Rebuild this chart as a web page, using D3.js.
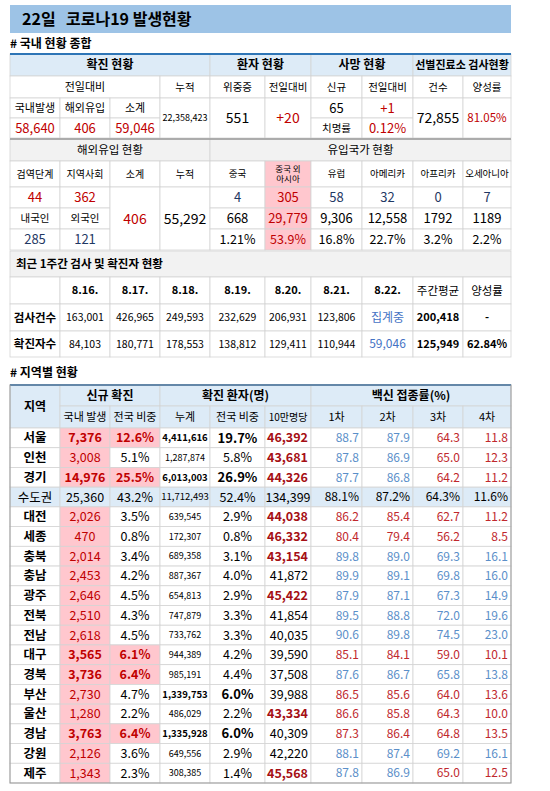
<!DOCTYPE html>
<html><head><meta charset="utf-8">
<script src="https://cdn.jsdelivr.net/npm/d3@7"></script>
<style>body{margin:0;background:#fff}text{font-family:"Noto Sans CJK KR","Noto Sans",sans-serif;white-space:pre}</style>
</head><body><svg id="c" width="550" height="791"></svg>
<script>
// ---- data ----
const summaryHead=["확진 현황","환자 현황","사망 현황","선별진료소 검사현황"];
const summaryVals={domestic:"58,640",overseas:"406",subtotal:"59,046",cumul:"22,358,423",critical:"551",criticalDiff:"+20",deaths:"65",deathsDiff:"+1",fatality:"0.12%",tests:"72,855",positivity:"81.05%"};
const overseasTop=["44","362"], overseasBot=["285","121"];
const countryNames=["중국","중국 외\n아시아","유럽","아메리카","아프리카","오세아니아"];
const countryToday=["4","305","58","32","0","7"];
const countryCumul=["668","29,779","9,306","12,558","1792","1189"];
const countryShare=["1.21%","53.9%","16.8%","22.7%","3.2%","2.2%"];
const weekDates=["8.16.","8.17.","8.18.","8.19.","8.20.","8.21.","8.22."];
const weekTests=["163,001","426,965","249,593","232,629","206,931","123,806","집계중"];
const weekCases=["84,103","180,771","178,553","138,812","129,411","110,944","59,046"];
const weekAvg=["200,418","125,949"], weekRate=["-","62.84%"];
const regions=["서울","인천","경기","수도권","대전","세종","충북","충남","광주","전북","전남","대구","경북","부산","울산","경남","강원","제주"];
const newCases=["7,376","3,008","14,976","25,360","2,026","470","2,014","2,453","2,646","2,510","2,618","3,565","3,736","2,730","1,280","3,763","2,126","1,343"];
const newShare=["12.6%","5.1%","25.5%","43.2%","3.5%","0.8%","3.4%","4.2%","4.5%","4.3%","4.5%","6.1%","6.4%","4.7%","2.2%","6.4%","3.6%","2.3%"];
const totalCases=["4,411,616","1,287,874","6,013,003","11,712,493","639,545","172,307","689,358","887,367","654,813","747,879","733,762","944,389","985,191","1,339,753","486,029","1,335,928","649,556","308,385"];
const totalShare=["19.7%","5.8%","26.9%","52.4%","2.9%","0.8%","3.1%","4.0%","2.9%","3.3%","3.3%","4.2%","4.4%","6.0%","2.2%","6.0%","2.9%","1.4%"];
const per100k=["46,392","43,681","44,326","134,399","44,038","46,332","43,154","41,872","45,422","41,854","40,035","39,590","37,508","39,988","43,334","40,309","42,220","45,568"];
const vac1=["88.7","87.8","87.7","88.1%","86.2","80.4","89.8","89.9","87.9","89.5","90.6","85.1","87.6","86.5","86.6","87.3","88.1","87.8"];
const vac2=["87.9","86.9","86.8","87.2%","85.4","79.4","89.0","89.1","87.1","88.8","89.8","84.1","86.7","85.6","85.8","86.4","87.4","86.9"];
const vac3=["64.3","65.0","64.2","64.3%","62.7","56.2","69.3","69.8","67.3","72.0","74.5","59.0","65.8","64.0","64.3","64.8","69.2","65.0"];
const vac4=["11.8","12.3","11.2","11.6%","11.2","8.5","16.1","16.0","14.9","19.6","23.0","10.1","13.8","13.6","10.0","13.5","16.1","12.5"];
const highlightRegions=["서울","경기","대구","경북","경남"];
const boldTotalRegions=["서울","경기","부산","경남"];
const hotPer100k=["서울","인천","경기","대전","세종","충북","광주","울산","제주"];
const vacRed={"서울":[0,0,1,1],"인천":[0,0,1,1],"경기":[0,0,1,1],"대전":[1,1,1,1],"세종":[1,1,1,1],"대구":[1,1,1,1],"부산":[1,1,1,1],"울산":[1,1,1,1],"경남":[1,1,1,1],"제주":[0,0,1,1]};

// ---- drawing ----
const svg=d3.select("#c");
const bounds=[10,60,110,160,210,265,311,362,413,463,511];
const X=d3.scaleOrdinal().domain(d3.range(11)).range(bounds);
const RED="#c00000",DRED="#a50f15",NAVY="#1f3864",BLUE="#4472c4",VBLUE="#5b8fc9",PINK="#ffc7ce",LB="#ddebf7",GRAY="#f2f2f2",LINE="#d4d4d4";
function cell(c0,c1,y0,y1,txt,o={}){
  const x0=X(c0),x1=X(c1);
  svg.append("rect").attr("x",x0).attr("y",y0).attr("width",x1-x0).attr("height",y1-y0)
    .attr("fill",o.bg||"#fff").attr("stroke",LINE).attr("stroke-width",0.8);
  if(txt==null)return;
  const lines=String(txt).split("\n");
  const fs=o.fs||12;
  const anchor=o.anchor||"middle";
  const tx=anchor==="end"?x1-3:anchor==="start"?x0+6:(x0+x1)/2;
  const t=svg.append("text").attr("x",tx).attr("text-anchor",anchor)
    .attr("font-size",fs).attr("font-weight",o.bold?"bold":"normal").attr("fill",o.color||"#000");
  const ym=(y0+y1)/2, lh=fs*1.25;
  lines.forEach((l,i)=>t.append("tspan").attr("x",tx).attr("y",ym+(i-(lines.length-1)/2)*lh).attr("dy","0.36em").text(l));
}
// title
svg.append("rect").attr("x",10).attr("y",5).attr("width",501).attr("height",28).attr("fill","#9dc3e6");
svg.append("text").attr("x",22).attr("y",25).attr("font-size",16).attr("font-weight","bold").text("22일");
svg.append("text").attr("x",66).attr("y",25).attr("font-size",16).attr("font-weight","bold").text("코로나19 발생현황");
svg.append("text").attr("x",10).attr("y",48).attr("font-size",12).attr("font-weight","bold").text("# 국내 현황 종합");

// table 1
cell(0,4,54,76,summaryHead[0],{bg:LB,bold:true});
cell(4,6,54,76,summaryHead[1],{bg:LB,bold:true});
cell(6,8,54,76,summaryHead[2],{bg:LB,bold:true});
cell(8,10,54,76,summaryHead[3],{bg:LB,bold:true,fs:11});
cell(0,3,76,98,"전일대비",{fs:11});
["누적","위중증","전일대비","신규","전일대비","건수","양성률"].forEach((h,i)=>cell(3+i,4+i,76,98,h,{fs:10.5}));
cell(0,1,98,118,"국내발생",{fs:11});cell(1,2,98,118,"해외유입",{fs:11});cell(2,3,98,118,"소계",{fs:11});
cell(0,1,118,138,summaryVals.domestic,{color:RED,fs:13});
cell(1,2,118,138,summaryVals.overseas,{color:RED,fs:13});
cell(2,3,118,138,summaryVals.subtotal,{color:RED,fs:13});
cell(3,4,98,138,summaryVals.cumul,{fs:9});
cell(4,5,98,138,summaryVals.critical,{fs:14});
cell(5,6,98,138,summaryVals.criticalDiff,{fs:14,color:RED});
cell(6,7,98,118,summaryVals.deaths,{fs:13});
cell(7,8,98,118,summaryVals.deathsDiff,{fs:13,color:RED});
cell(6,7,118,138,"치명률",{fs:10.5});
cell(7,8,118,138,summaryVals.fatality,{fs:13,color:RED});
cell(8,9,98,138,summaryVals.tests,{fs:14});
cell(9,10,98,138,summaryVals.positivity,{fs:11.5,color:RED});
svg.append("line").attr("x1",10).attr("x2",511).attr("y1",54).attr("y2",54).attr("stroke","#2e75b6").attr("stroke-width",2);

// table 2
cell(0,4,139,161,"해외유입 현황",{bg:GRAY,fs:11.5});
cell(4,10,139,161,"유입국가 현황",{bg:GRAY,fs:11.5});
["검역단계","지역사회","소계","누적"].forEach((h,i)=>cell(i,i+1,161,187,h,{fs:10}));
countryNames.forEach((h,i)=>cell(4+i,5+i,161,187,h,{fs:i===1?8.5:9.5,bg:i===1?PINK:"#fff"}));
cell(0,1,187,208,overseasTop[0],{color:RED,fs:13});
cell(1,2,187,208,overseasTop[1],{color:RED,fs:13});
cell(0,1,208,229,"내국인",{fs:10.5});cell(1,2,208,229,"외국인",{fs:10.5});
cell(0,1,229,250,overseasBot[0],{color:NAVY,fs:13});
cell(1,2,229,250,overseasBot[1],{color:NAVY,fs:13});
cell(2,3,187,250,summaryVals.overseas,{color:RED,fs:14});
cell(3,4,187,250,"55,292",{fs:14});
countryToday.forEach((v,i)=>cell(4+i,5+i,187,208,v,{fs:13,color:i===1?RED:NAVY,bg:i===1?PINK:"#fff"}));
countryCumul.forEach((v,i)=>cell(4+i,5+i,208,229,v,{fs:13,color:i===1?RED:"#000",bg:i===1?PINK:"#fff"}));
countryShare.forEach((v,i)=>cell(4+i,5+i,229,250,v,{fs:12.5,color:i===1?RED:"#000",bg:i===1?PINK:"#fff"}));
svg.append("line").attr("x1",10).attr("x2",511).attr("y1",139).attr("y2",139).attr("stroke","#999").attr("stroke-width",1.5);

// table 3
cell(0,10,251,277,"최근 1주간 검사 및 확진자 현황",{bg:GRAY,bold:true,fs:11.5,anchor:"start"});
cell(0,1,277,304,"",{});
weekDates.forEach((d,i)=>cell(1+i,2+i,277,304,d,{bold:true,fs:11}));
cell(8,9,277,304,"주간평균",{fs:11.5});cell(9,10,277,304,"양성률",{fs:11.5});
cell(0,1,304,331,"검사건수",{bold:true,fs:11.5});
cell(0,1,331,357,"확진자수",{bold:true,fs:11.5});
weekTests.forEach((v,i)=>cell(1+i,2+i,304,331,v,{fs:i===6?12:10.5,color:i===6?BLUE:"#000"}));
weekCases.forEach((v,i)=>cell(1+i,2+i,331,357,v,{fs:i===6?12:10.5,color:i===6?BLUE:"#000"}));
cell(8,9,304,331,weekAvg[0],{bold:true,fs:11});cell(8,9,331,357,weekAvg[1],{bold:true,fs:11});
cell(9,10,304,331,weekRate[0],{bold:true,fs:11});cell(9,10,331,357,weekRate[1],{bold:true,fs:11});

// table 4
svg.append("text").attr("x",10).attr("y",377).attr("font-size",12).attr("font-weight","bold").text("# 지역별 현황");
cell(0,1,385,428,"지역",{bg:LB,bold:true,fs:12});
cell(1,3,385,406,"신규 확진",{bg:LB,bold:true,fs:12});
cell(3,6,385,406,"확진 환자(명)",{bg:LB,bold:true,fs:12});
cell(6,10,385,406,"백신 접종률(%)",{bg:LB,bold:true,fs:12});
["국내 발생","전국 비중","누계","전국 비중","10만명당","1차","2차","3차","4차"].forEach((h,i)=>cell(1+i,2+i,406,428,h,{bg:LB,fs:i===4?10:11}));
const Y=d3.scaleBand().domain(regions).range([428,783]);
regions.forEach((r,i)=>{
  const y0=Y(r),y1=y0+Y.bandwidth();
  if(r==="수도권"){
    const o={bg:LB,fs:12.5};
    cell(0,1,y0,y1,r,o);cell(1,2,y0,y1,newCases[i],o);cell(2,3,y0,y1,newShare[i],o);
    cell(3,4,y0,y1,totalCases[i],{bg:LB,fs:9.5});cell(4,5,y0,y1,totalShare[i],o);cell(5,6,y0,y1,per100k[i],o);
    [vac1,vac2,vac3,vac4].forEach((a,k)=>cell(6+k,7+k,y0,y1,a[i],{bg:LB,fs:12,anchor:"end"}));
    return;
  }
  const hi=highlightRegions.includes(r), bt=boldTotalRegions.includes(r), hot=hotPer100k.includes(r);
  cell(0,1,y0,y1,r,{bold:true,fs:12.5});
  cell(1,2,y0,y1,newCases[i],{bg:PINK,color:RED,bold:hi,fs:12.5});
  cell(2,3,y0,y1,newShare[i],{bg:hi?PINK:"#fff",color:hi?RED:"#000",bold:hi,fs:12.5});
  cell(3,4,y0,y1,totalCases[i],{bold:bt,fs:bt?9.5:9});
  cell(4,5,y0,y1,totalShare[i],{bold:bt,fs:bt?13:12.5});
  cell(5,6,y0,y1,per100k[i],{bold:hot,color:hot?DRED:"#000",fs:12.5,anchor:"end"});
  const vr=vacRed[r]||[0,0,0,0];
  [vac1,vac2,vac3,vac4].forEach((a,k)=>cell(6+k,7+k,y0,y1,a[i],{fs:12,anchor:"end",color:vr[k]?"#c0282d":VBLUE}));
});
svg.append("line").attr("x1",10).attr("x2",511).attr("y1",385).attr("y2",385).attr("stroke","#2e75b6").attr("stroke-width",2);
svg.append("rect").attr("x",10).attr("y",385).attr("width",501).attr("height",398).attr("fill","none").attr("stroke","#999");
</script></body></html>
